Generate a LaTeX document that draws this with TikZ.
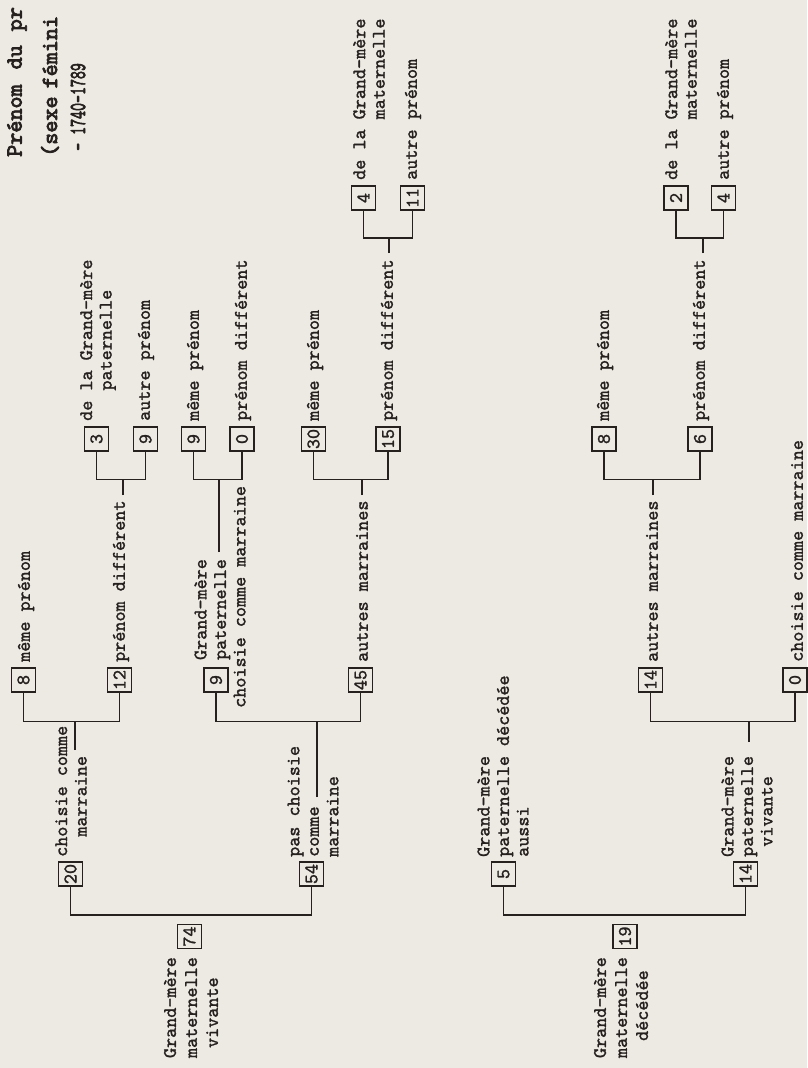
\documentclass[tikz,border=0pt]{standalone}
\usepackage{graphicx}
\definecolor{paper}{HTML}{EDEAE4}
\definecolor{ink}{HTML}{26211F}
\font\twfont="[lmmono10-regular.otf]:embolden=1.4" at 19.2pt
\font\tlfont="[lmmono10-regular.otf]:embolden=3.5" at 23pt
\newcommand\ind[1]{\hspace*{#1\fontcharwd\font`x}}
\newcommand\fs{\twfont\baselineskip=19.5pt\relax}
\newcommand\fsz{\twfont\baselineskip=21pt\relax}
\newcommand\ft{\tlfont}
\begin{document}
\begin{tikzpicture}[x=1pt,y=-1pt,
  box/.style={draw=ink, line width=1.15pt, minimum width=24pt, minimum height=24pt, inner sep=0pt, font=\fs, text=ink},
  txt/.style={rotate=90, inner sep=0pt, align=left, font=\fs, text=ink},
  txtz/.style={rotate=90, inner sep=0pt, align=left, font=\fsz, text=ink},
  ttl/.style={rotate=90, inner sep=0pt, anchor=west, font=\ft, text=ink},
  ln/.style={draw=ink, line width=1.15pt}]
\fill[paper] (0,0) rectangle (807,1068);
\useasboundingbox (0,0) rectangle (807,1068);

% title
\node[ttl] (ti1) at (17,157) {Prénom\hspace{15pt}du\hspace{14pt}pr};
\node[ttl] (ti2) at (50,157) {(sexe\hspace{8pt}fémini};
\node[ttl] (ti3) at (78,151) {\scalebox{0.66}[1]{– 1740–1789}};

% level 0
\node[box] (b74) at (189.5,936.5) {\rotatebox{90}{74}};
\node[txtz, anchor=east] (t74) at (191,957) {Grand-mère\\maternelle\\\ind{1}vivante};
\node[box] (b19) at (625,936.5) {\rotatebox{90}{19}};
\node[txtz, anchor=east] (t19) at (621,957) {Grand-mère\\maternelle\\\ind{1.7}décédée};

% level 1
\node[box] (b20) at (70.5,874) {\rotatebox{90}{20}};
\node[txt, anchor=west] (t20) at (71,857) {choisie comme\\\ind{2}marraine};
\node[box] (b54) at (311.5,874) {\rotatebox{90}{54}};
\node[txt, anchor=west] (t54) at (313,857) {pas choisie\\comme\\marraine};
\node[box] (b5) at (503.5,874) {\rotatebox{90}{5}};
\node[txt, anchor=west] (t5) at (503,857) {Grand-mère\\paternelle décédée\\aussi};
\node[box] (b14v) at (745.5,874) {\rotatebox{90}{14}};
\node[txt, anchor=west] (t14v) at (747,857) {Grand-mère\\paternelle\\\ind{1}vivante};

% level 2
\node[box] (b8) at (23.5,680) {\rotatebox{90}{8}};
\node[txt, anchor=west] (t8) at (26,662) {même prénom};
\node[box] (b12) at (119.5,680) {\rotatebox{90}{12}};
\node[txt, anchor=west] (t12) at (121,662) {prénom différent};
\node[box] (b9p) at (216,680) {\rotatebox{90}{9}};
\node[txt, anchor=west] (t9p) at (220,708) {\ind{4.75}Grand-mère\\\ind{4.75}paternelle\\choisie comme marraine};
\node[box] (b45) at (360.5,680) {\rotatebox{90}{45}};
\node[txt, anchor=west] (t45) at (362,662) {autres marraines};
\node[box] (b14a) at (650.5,680) {\rotatebox{90}{14}};
\node[txt, anchor=west] (t14a) at (652,662) {autres marraines};
\node[box] (b0c) at (795,680) {\rotatebox{90}{0}};
\node[txt, anchor=west] (t0c) at (797,662) {choisie comme marraine};

% level 3
\node[box] (b3) at (96.5,439) {\rotatebox{90}{3}};
\node[txt, anchor=west] (t3) at (98,421) {de la Grand-mère\\\ind{3}paternelle};
\node[box] (b9a) at (145.5,439) {\rotatebox{90}{9}};
\node[txt, anchor=west] (t9a) at (146,421) {autre prénom};
\node[box] (b9m) at (193.5,439) {\rotatebox{90}{9}};
\node[txt, anchor=west] (t9m) at (195,421) {même prénom};
\node[box] (b0d) at (242,439) {\rotatebox{90}{0}};
\node[txt, anchor=west] (t0d) at (243,421) {prénom différent};
\node[box] (b30) at (313.5,439) {\rotatebox{90}{30}};
\node[txt, anchor=west] (t30) at (315,421) {même prénom};
\node[box] (b15) at (388,439) {\rotatebox{90}{15}};
\node[txt, anchor=west] (t15) at (389,421) {prénom différent};
\node[box] (b8m) at (604,439) {\rotatebox{90}{8}};
\node[txt, anchor=west] (t8m) at (605,421) {même prénom};
\node[box] (b6) at (700,439) {\rotatebox{90}{6}};
\node[txt, anchor=west] (t6) at (701,421) {prénom différent};

% level 4
\node[box] (b4g) at (363.5,198) {\rotatebox{90}{4}};
\node[txt, anchor=west] (t4g) at (369,180) {de la Grand-mère\\\ind{6}maternelle};
\node[box] (b11) at (412.5,198) {\rotatebox{90}{11}};
\node[txt, anchor=west] (t11) at (413,180) {autre prénom};
\node[box] (b2) at (676,198) {\rotatebox{90}{2}};
\node[txt, anchor=west] (t2) at (681,180) {de la Grand-mère\\\ind{6}maternelle};
\node[box] (b4a) at (723.5,198) {\rotatebox{90}{4}};
\node[txt, anchor=west] (t4a) at (725,180) {autre prénom};

% stem end coordinates
\coordinate (s20) at (75,750);
\coordinate (s54) at (317,797);
\coordinate (s14v) at (749,742);
\coordinate (s12) at (123,495);
\coordinate (s9p) at (219,552);
\coordinate (s45) at (362,495);
\coordinate (s14a) at (653,495);
\coordinate (s15) at (389,253);
\coordinate (s6) at (703,253);

% brackets level 0
\draw[ln] (b20.south) -- (b20.south |- 0,915) -- (b54.south |- 0,915) -- (b54.south);
\draw[ln] (b5.south) -- (b5.south |- 0,915) -- (b14v.south |- 0,915) -- (b14v.south);
% brackets level 1
\draw[ln] (b8.south) -- (b8.south |- 0,721.5) -- (b12.south |- 0,721.5) -- (b12.south);
\draw[ln] (s20) -- (s20 |- 0,721.5);
\draw[ln] (b9p.south) -- (b9p.south |- 0,721.5) -- (b45.south |- 0,721.5) -- (b45.south);
\draw[ln] (s54) -- (s54 |- 0,721.5);
\draw[ln] (b14a.south) -- (b14a.south |- 0,721.5) -- (b0c.south |- 0,721.5) -- (b0c.south);
\draw[ln] (s14v) -- (s14v |- 0,721.5);
% brackets level 2
\draw[ln] (b3.south) -- (b3.south |- 0,479.5) -- (b9a.south |- 0,479.5) -- (b9a.south);
\draw[ln] (s12) -- (s12 |- 0,479.5);
\draw[ln] (b9m.south) -- (b9m.south |- 0,479.5) -- (b0d.south |- 0,479.5) -- (b0d.south);
\draw[ln] (s9p) -- (s9p |- 0,479.5);
\draw[ln] (b30.south) -- (b30.south |- 0,479.5) -- (b15.south |- 0,479.5) -- (b15.south);
\draw[ln] (s45) -- (s45 |- 0,479.5);
\draw[ln] (b8m.south) -- (b8m.south |- 0,479.5) -- (b6.south |- 0,479.5) -- (b6.south);
\draw[ln] (s14a) -- (s14a |- 0,479.5);
% brackets level 3
\draw[ln] (b4g.south) -- (b4g.south |- 0,238) -- (b11.south |- 0,238) -- (b11.south);
\draw[ln] (s15) -- (s15 |- 0,238);
\draw[ln] (b2.south) -- (b2.south |- 0,238) -- (b4a.south |- 0,238) -- (b4a.south);
\draw[ln] (s6) -- (s6 |- 0,238);
\end{tikzpicture}
\end{document}
